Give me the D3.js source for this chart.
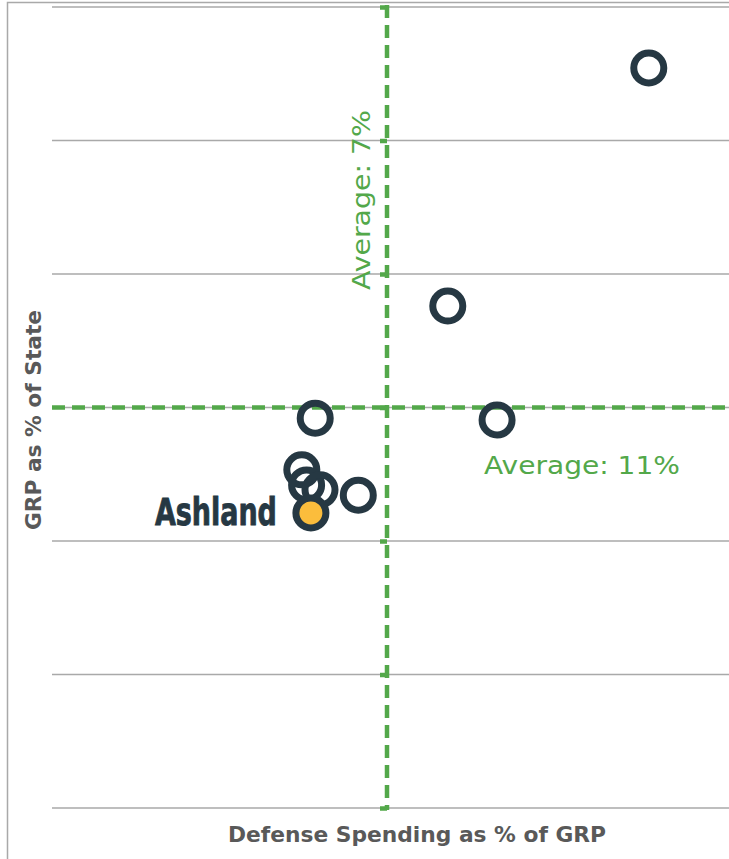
<!DOCTYPE html>
<html>
<head>
<meta charset="utf-8">
<script src="https://cdn.jsdelivr.net/npm/d3@7"></script>
<style>
  html, body { margin: 0; padding: 0; background: #fff; }
  svg { display: block; }
</style>
</head>
<body>
<svg id="chart" width="729" height="859"></svg>
<script>
// ---- data ----
const names = ["A", "B", "C", "D", "E", "F", "G", "H", "Ashland"];
const defenseShare = [12.47, 8.27, 9.30, 5.50, 5.22, 5.32, 5.60, 6.40, 5.41]; // x: Defense Spending as % of GRP
const grpShare = [18.63, 13.28, 10.72, 10.76, 9.60, 9.26, 9.15, 9.03, 8.63];   // y: GRP as % of State
const highlight = "Ashland";
const yTicks = [2, 5, 8, 11, 14, 17, 20];
const xDomain = [0, 14];
const avgX = 7;   // "Average: 7%"
const avgY = 11;  // "Average: 11%"
const avgXLabel = "Average: 7%";
const avgYLabel = "Average: 11%";
const xTitle = "Defense Spending as % of GRP";
const yTitle = "GRP as % of State";

// ---- layout ----
const svg = d3.select("#chart");
const W = 729, H = 859;
const mLeft = 52, mRight = 722, mTop = 7, mBottom = 808;

const x = d3.scaleLinear().domain(xDomain).range([mLeft, mRight]);
const y = d3.scaleLinear().domain([yTicks[0], yTicks[yTicks.length - 1]]).range([mBottom, mTop]);

const green = "#53a84a";
const dark = "#263843";
const gridCol = "#a9a9a9";

// outer frame
svg.append("rect")
  .attr("x", 7.5).attr("y", 2.5)
  .attr("width", W + 20).attr("height", H + 20)
  .attr("fill", "none").attr("stroke", gridCol).attr("stroke-width", 1.5);

// gridlines
svg.append("g").selectAll("line").data(yTicks).join("line")
  .attr("x1", mLeft).attr("x2", W)
  .attr("y1", d => y(d)).attr("y2", d => y(d))
  .attr("stroke", gridCol).attr("stroke-width", 1.5);

// vertical axis (dashed, crossing at avgX)
const vAxis = d3.axisLeft(y).tickValues(yTicks).tickSize(7).tickFormat("");
const vg = svg.append("g").attr("transform", `translate(${x(avgX)},0)`).call(vAxis);
vg.select(".domain").remove();
vg.selectAll(".tick line").attr("stroke", green).attr("stroke-width", 4.5);
vg.append("line")
  .attr("x1", 0).attr("x2", 0).attr("y1", y(yTicks[yTicks.length - 1]) - 2).attr("y2", y(yTicks[0]) + 2)
  .attr("stroke", green).attr("stroke-width", 4.5).attr("stroke-dasharray", "13,7");

// horizontal dashed line at avgY
svg.append("line")
  .attr("x1", mLeft).attr("x2", W)
  .attr("y1", y(avgY)).attr("y2", y(avgY))
  .attr("stroke", green).attr("stroke-width", 4.5).attr("stroke-dasharray", "13,7");

// average labels
svg.append("text")
  .attr("transform", `translate(${x(avgX) - 17},${290}) rotate(-90)`)
  .attr("font-family", "'DejaVu Sans', sans-serif")
  .attr("font-size", 24).attr("fill", green)
  .attr("textLength", 180).attr("lengthAdjust", "spacingAndGlyphs")
  .text(avgXLabel);

svg.append("text")
  .attr("x", 484).attr("y", 474)
  .attr("font-family", "'DejaVu Sans', sans-serif")
  .attr("font-size", 24).attr("fill", green)
  .attr("textLength", 196).attr("lengthAdjust", "spacingAndGlyphs")
  .text(avgYLabel);

// points
const pts = names.map((n, i) => ({ name: n, x: defenseShare[i], y: grpShare[i] }));
svg.append("g").selectAll("circle").data(pts).join("circle")
  .attr("cx", d => x(d.x)).attr("cy", d => y(d.y))
  .attr("r", 15)
  .attr("fill", d => d.name === highlight ? "#fbbd3c" : "#fff")
  .attr("fill-opacity", d => d.name === highlight ? 1 : 0)
  .attr("stroke", dark).attr("stroke-width", 7);

// Ashland label
const ash = pts.find(d => d.name === highlight);
svg.append("text")
  .attr("x", x(ash.x) - 156).attr("y", y(ash.y) + 12)
  .attr("font-family", "'DejaVu Sans', sans-serif")
  .attr("font-weight", "bold").attr("font-size", 37).attr("fill", dark)
  .attr("stroke", dark).attr("stroke-width", 0.9)
  .attr("textLength", 122).attr("lengthAdjust", "spacingAndGlyphs")
  .text(highlight);

// axis titles
svg.append("text")
  .attr("x", 228).attr("y", 842)
  .attr("font-family", "'DejaVu Sans', sans-serif")
  .attr("font-weight", "bold").attr("font-size", 21).attr("fill", "#595959")
  .attr("textLength", 378).attr("lengthAdjust", "spacingAndGlyphs")
  .text(xTitle);

svg.append("text")
  .attr("transform", `translate(${41},${530}) rotate(-90)`)
  .attr("font-family", "'DejaVu Sans', sans-serif")
  .attr("font-weight", "bold").attr("font-size", 21).attr("fill", "#595959")
  .attr("textLength", 220).attr("lengthAdjust", "spacingAndGlyphs")
  .text(yTitle);
</script>
</body>
</html>
